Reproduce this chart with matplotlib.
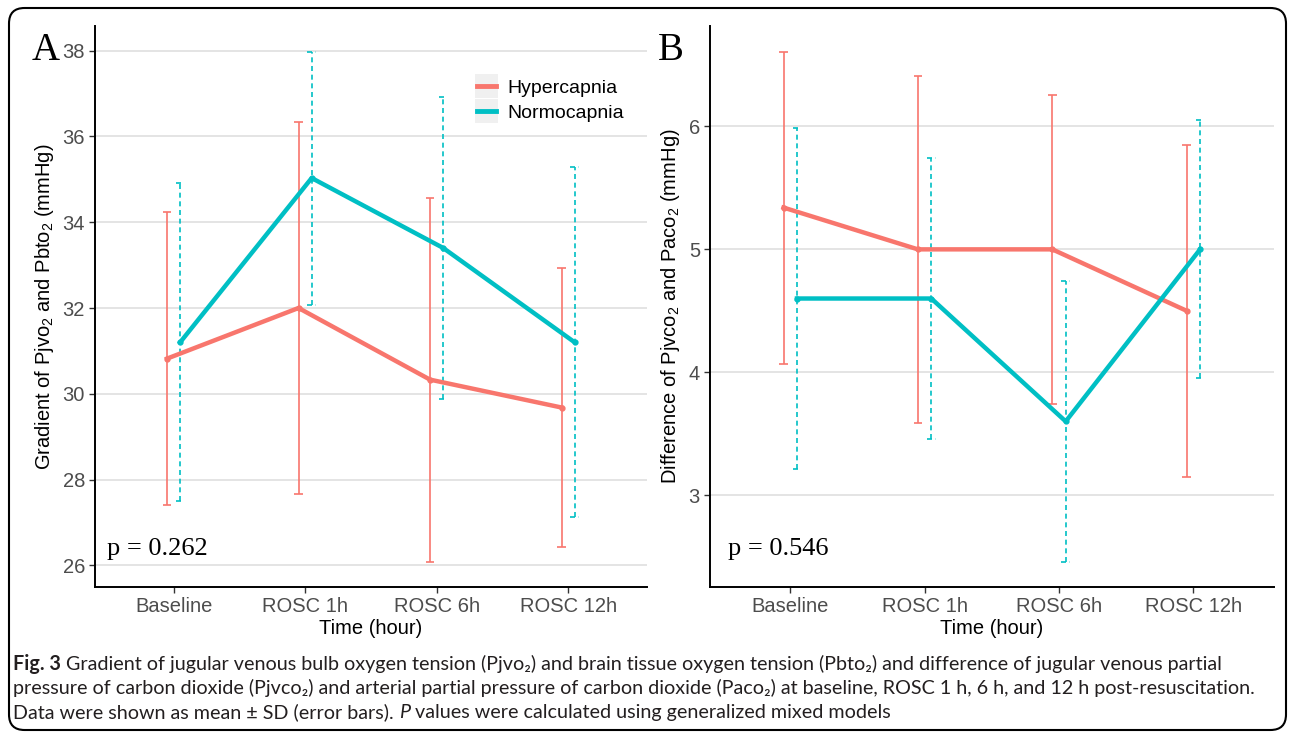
import matplotlib
matplotlib.use('Agg')
import matplotlib.pyplot as plt
from matplotlib import font_manager
from matplotlib.patches import FancyBboxPatch, Rectangle
import numpy as np

# ---------------- data ----------------
times = ["Baseline", "ROSC 1h", "ROSC 6h", "ROSC 12h"]
groups = ["Hypercapnia", "Normocapnia"]

a_hyper_mean = [30.82, 32.00, 30.33, 29.68]
a_hyper_sd = [3.42, 4.33, 4.24, 3.26]
a_normo_mean = [31.20, 35.03, 33.40, 31.20]
a_normo_sd = [3.71, 2.95, 3.51, 4.08]

b_hyper_mean = [5.34, 5.00, 5.00, 4.50]
b_hyper_sd = [1.27, 1.41, 1.26, 1.35]
b_normo_mean = [4.60, 4.60, 3.60, 5.00]
b_normo_sd = [1.39, 1.14, 1.14, 1.05]

a_yticks = [26, 28, 30, 32, 34, 36, 38]
b_yticks = [3, 4, 5, 6]
p_a = "p = 0.262"
p_b = "p = 0.546"

colors = {"Hypercapnia": "#F8766D", "Normocapnia": "#00BFC4"}
styles = {"Hypercapnia": "-", "Normocapnia": (0, (3, 2.2))}

# ---------------- fonts ----------------
avail = {f.name for f in font_manager.fontManager.ttflist}
sans = "Liberation Sans" if "Liberation Sans" in avail else "DejaVu Sans"
serif = "Liberation Serif" if "Liberation Serif" in avail else "DejaVu Serif"
cap_font = "Lato" if "Lato" in avail else sans

plt.rcParams['font.family'] = [sans, 'DejaVu Sans']
plt.rcParams['mathtext.fontset'] = 'custom'
plt.rcParams['mathtext.rm'] = sans
plt.rcParams['mathtext.it'] = sans + ':italic'
plt.rcParams['mathtext.bf'] = sans + ':bold'

W, H = 1295, 738
fig = plt.figure(figsize=(W / 100, H / 100), dpi=100)

def px_rect(l, t, r, b):
    return [l / W, 1 - b / H, (r - l) / W, (b - t) / H]

axA = fig.add_axes(px_rect(94.7, 26, 647, 587))
axB = fig.add_axes(px_rect(709.6, 26, 1274, 587))

def draw_panel(ax, hm, hs, nm, ns, yticks, ylabel, ptxt, px):
    x = np.arange(1, len(times) + 1)
    dodge = 0.05
    capw = 0.065
    allv = []
    data = [("Hypercapnia", hm, hs, -dodge), ("Normocapnia", nm, ns, dodge)]
    for g, m, s, d in data:
        m = np.array(m); s = np.array(s)
        xx = x + d
        lo, hi = m - s, m + s
        allv += list(lo) + list(hi)
        ax.vlines(xx, lo, hi, colors=colors[g], linestyles=[styles[g]], lw=1.2, zorder=3)
        ax.hlines(np.concatenate([lo, hi]), np.concatenate([xx, xx]) - capw / 2,
                  np.concatenate([xx, xx]) + capw / 2, colors=colors[g],
                  linestyles=[styles[g]], lw=1.2, zorder=3)
    handles = []
    for g, m, s, d in data:
        ln, = ax.plot(x + d, m, color=colors[g], lw=3.2, marker='o', ms=3.5,
                      solid_joinstyle='round', zorder=4, label=g)
        handles.append(ln)
    lo_, hi_ = min(allv), max(allv)
    rng = hi_ - lo_
    ax.set_ylim(lo_ - 0.05 * rng, hi_ + 0.05 * rng)
    ax.set_xlim(0.4, 4.6)
    ax.set_xticks(x)
    ax.set_xticklabels(times)
    ax.set_yticks(yticks)
    ax.grid(axis='y', color='#DCDCDC', lw=1.1, zorder=0)
    ax.set_axisbelow(True)
    for sp in ['top', 'right']:
        ax.spines[sp].set_visible(False)
    for sp in ['left', 'bottom']:
        ax.spines[sp].set_color('black')
        ax.spines[sp].set_linewidth(1.4)
    ax.tick_params(direction='out', length=4, width=1, color='#333333',
                   labelcolor='#4D4D4D', labelsize=14.5, pad=3)
    ax.set_xlabel("Time (hour)", fontsize=14.5, color='black', labelpad=2)
    ax.set_ylabel(ylabel, fontsize=14.5, color='black', labelpad=5)
    ax.text(px, 0.057, ptxt, transform=ax.transAxes, family=[serif], fontsize=19,
            va='baseline', ha='left')
    return handles

hA = draw_panel(axA, a_hyper_mean, a_hyper_sd, a_normo_mean, a_normo_sd, a_yticks,
                r"Gradient of Pjvo$_2$ and Pbto$_2$ (mmHg)", p_a, 0.022)
hB = draw_panel(axB, b_hyper_mean, b_hyper_sd, b_normo_mean, b_normo_sd, b_yticks,
                r"Difference of Pjvco$_2$ and Paco$_2$ (mmHg)", p_b, 0.033)

# legend key backgrounds (ggplot style), drawn inside axes below the legend
for (l, t, r, b) in [(475, 74, 498, 98), (475, 99, 498, 123)]:
    axA.add_patch(Rectangle((l / W, 1 - b / H), (r - l) / W, (b - t) / H,
                            transform=fig.transFigure, fc='#F0F0F0', ec='none',
                            zorder=1, clip_on=False))

leg = axA.legend(handles=hA, labels=groups, loc='upper left',
                 bbox_to_anchor=((477 - 94.7) / 552.3, (587 - 79) / 561),
                 frameon=False, fontsize=14, handlelength=1.0, handletextpad=0.55,
                 labelspacing=0.4, borderaxespad=0, borderpad=0)
leg.set_zorder(10)
for lh in leg.get_lines():
    lh.set_linewidth(3.5)
    lh.set_marker('')

fig.text(32 / W, 1 - 60 / H, "A", family=[serif], fontsize=28, va='baseline', ha='left')
fig.text(658 / W, 1 - 60 / H, "B", family=[serif], fontsize=28, va='baseline', ha='left')

# ---------------- border ----------------
box = FancyBboxPatch((9 / W, 8 / H), (1286 - 9) / W, (730 - 8) / H,
                     boxstyle="round,pad=0,rounding_size=0.012",
                     transform=fig.transFigure, fill=False, ec='black', lw=1.5,
                     mutation_aspect=W / H)
fig.patches.append(box)

# ---------------- caption ----------------
renderer = fig.canvas.get_renderer()
cap_lines = [
    [("Fig. 3", 'bold', 'normal'),
     (" Gradient of jugular venous bulb oxygen tension (Pjvo\u2082) and brain tissue oxygen tension (Pbto\u2082) and difference of jugular venous partial", 'normal', 'normal')],
    [("pressure of carbon dioxide (Pjvco\u2082) and arterial partial pressure of carbon dioxide (Paco\u2082) at baseline, ROSC 1 h, 6 h, and 12 h post-resuscitation.", 'normal', 'normal')],
    [("Data were shown as mean \u00b1 SD (error bars). ", 'normal', 'normal'),
     ("P", 'normal', 'italic'),
     (" values were calculated using generalized mixed models", 'normal', 'normal')],
]
cap_y = [670, 694, 718]
target_w = [1242.0, 1249.0, 889.0]

def line_width(parts, fs):
    tot = 0
    for s, wgt, sty in parts:
        t = fig.text(0, 0, s, fontsize=fs, family=[cap_font, 'DejaVu Sans'], weight=wgt, style=sty)
        tot += t.get_window_extent(renderer).width
        t.remove()
    return tot

cap_fs = min([10 * tw / line_width(p, 10) for p, tw in zip(cap_lines, target_w)] + [15.5])

for parts, yb in zip(cap_lines, cap_y):
    xcur = 13.0
    for s, wgt, sty in parts:
        t = fig.text(xcur / W, 1 - yb / H, s, fontsize=cap_fs, family=[cap_font, 'DejaVu Sans'],
                     weight=wgt, style=sty, va='baseline', ha='left', color='#231F20')
        xcur += t.get_window_extent(renderer).width

fig.savefig("out.png", dpi=100)
